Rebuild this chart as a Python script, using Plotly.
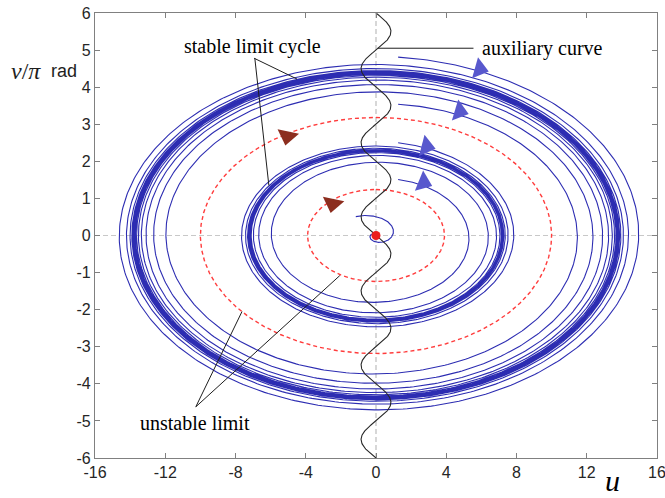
import numpy as np
import plotly.graph_objects as go

# ---------------- data ----------------
U_RANGE = [-16, 16]
V_RANGE = [-6, 6]
x_ticks = [-16, -12, -8, -4, 0, 4, 8, 12, 16]
y_ticks = [-6, -5, -4, -3, -2, -1, 0, 1, 2, 3, 4, 5, 6]

# limit cycles (amplitude in u; v amplitude = same value in rad, i.e. /pi in v/pi units)
stable_cycle_r = [7.2, 13.8]
unstable_cycle_r = [3.9, 10.0]

# trajectories: start point (u, v/pi), limit amplitude, approach factor per turn, number of turns
traj_start_u = [-1.15, 1.26, 1.26, 1.26, 1.26]
traj_start_v = [0.51, 1.51, 2.50, 3.54, 4.81]
traj_limit_r = [0.0, 7.2, 7.2, 13.8, 13.8]
traj_turn_factor = [0.12, 0.42, 0.50, 0.62, 0.50]
traj_turns = [3.0, 9.0, 9.0, 10.0, 9.0]

# auxiliary curve u = -a*sin(pi*v)
aux_amplitude = 0.85
aux_period = 2.0

# direction arrows
blue_arrow_u = [5.9, 4.76, 2.87, 2.7]
blue_arrow_v = [4.49, 3.35, 2.40, 1.43]
brown_arrow_u = [-5.05, -2.47]
brown_arrow_v = [2.68, 0.86]

# annotations (text, u, v)
labels = [
    ("stable limit cycle", -7.05, 5.11),
    ("auxiliary curve", 9.5, 5.05),
    ("unstable limit", -10.3, -5.05),
]
leaders = [  # (u0, v0, u1, v1)
    (-6.94, 4.78, -4.50, 4.22),
    (-6.90, 4.78, -6.10, 1.35),
    (0.10, 5.05, 5.55, 5.05),
    (-10.26, -4.62, -7.63, -2.05),
    (-10.26, -4.62, -2.06, -1.08),
]

# ---------------- styles ----------------
BLUE = "rgb(45,45,178)"
BLUE_ARROW = "rgb(88,88,205)"
BROWN = "rgb(140,45,30)"
RED = "rgb(255,60,60)"
SERIF = "Liberation Serif"
SANS = "Liberation Sans"

ML, MR, MT, MB = 95, 8, 13, 40
W, H = 665, 498
PW, PH = W - ML - MR, H - MT - MB

fig = go.Figure()

# helper: spiral in (u, v_rad) plane, clockwise
def spiral(u0, v0, R, f, turns):
    vr0 = v0 * np.pi
    r0 = np.hypot(u0, vr0)
    th0 = np.arctan2(u0, vr0)
    phi = np.linspace(0, 2 * np.pi * turns, int(400 * turns))
    r = R + (r0 - R) * f ** (phi / (2 * np.pi))
    th = th0 + phi
    return r * np.sin(th), r * np.cos(th) / np.pi

for u0, v0, R, f, n in zip(traj_start_u, traj_start_v, traj_limit_r, traj_turn_factor, traj_turns):
    uu, vv = spiral(u0, v0, R, f, n)
    fig.add_trace(go.Scatter(x=uu, y=vv, mode="lines",
                             line=dict(color=BLUE, width=1.1),
                             hoverinfo="skip", showlegend=False))

th = np.linspace(0, 2 * np.pi, 721)
for R in stable_cycle_r:
    fig.add_trace(go.Scatter(x=R * np.sin(th), y=R * np.cos(th) / np.pi, mode="lines",
                             line=dict(color=BLUE, width=2.2),
                             hoverinfo="skip", showlegend=False))

for R in unstable_cycle_r:
    fig.add_trace(go.Scatter(x=R * np.sin(th), y=R * np.cos(th) / np.pi, mode="lines",
                             line=dict(color=RED, width=1.4, dash="4px,3px"),
                             hoverinfo="skip", showlegend=False))

# auxiliary curve
av = np.linspace(V_RANGE[0], V_RANGE[1], 1201)
au = -aux_amplitude * np.sin(2 * np.pi * av / aux_period)
fig.add_trace(go.Scatter(x=au, y=av, mode="lines", line=dict(color="rgb(40,40,40)", width=1.1),
                         hoverinfo="skip", showlegend=False))

# blue arrows oriented with the clockwise tangent (screen coordinates)
SX = PW / (U_RANGE[1] - U_RANGE[0])
SY = PH / (V_RANGE[1] - V_RANGE[0])
ang = []
for u, v in zip(blue_arrow_u, blue_arrow_v):
    vr = v * np.pi
    ang.append(float(np.degrees(np.arctan2(u * SY / np.pi, vr * SX))))
fig.add_trace(go.Scatter(x=blue_arrow_u, y=blue_arrow_v, mode="markers",
                         marker=dict(symbol="triangle-right", size=19, color=BLUE_ARROW, angle=ang,
                                     line=dict(width=0)),
                         hoverinfo="skip", showlegend=False))
fig.add_trace(go.Scatter(x=brown_arrow_u, y=brown_arrow_v, mode="markers",
                         marker=dict(symbol="triangle-down", size=19, color=BROWN, angle=12,
                                     line=dict(width=0)),
                         hoverinfo="skip", showlegend=False))

# origin
fig.add_trace(go.Scatter(x=[0], y=[0], mode="markers",
                         marker=dict(size=9, color="rgb(235,30,30)"),
                         hoverinfo="skip", showlegend=False))

shapes = [
    dict(type="line", xref="x", yref="y", x0=0, x1=0, y0=V_RANGE[0], y1=V_RANGE[1],
         line=dict(color="rgb(175,175,175)", width=1, dash="5px,3px"), layer="below"),
    dict(type="line", xref="x", yref="y", x0=U_RANGE[0], x1=U_RANGE[1], y0=0, y1=0,
         line=dict(color="rgb(200,200,200)", width=1, dash="5px,3px"), layer="below"),
]
for (a, b, c, d) in leaders:
    shapes.append(dict(type="line", xref="x", yref="y", x0=a, y0=b, x1=c, y1=d,
                       line=dict(color="rgb(30,30,30)", width=1)))

annotations = []
for t, u, v in labels:
    annotations.append(dict(text=t, x=u, y=v, xref="x", yref="y", showarrow=False,
                            font=dict(family=SERIF, size=20, color="black")))

def px(x):
    return (x - ML) / PW

def py(y):
    return (H - MB - y) / PH

# axis labels
annotations.append(dict(text="<i>v</i>/<i>π</i>", x=px(26), y=py(71), xref="paper", yref="paper",
                        showarrow=False, xanchor="center", yanchor="middle",
                        font=dict(family=SERIF, size=24, color="rgb(30,30,30)")))
annotations.append(dict(text="rad", x=px(63.5), y=py(71), xref="paper", yref="paper",
                        showarrow=False, xanchor="center", yanchor="middle",
                        font=dict(family=SANS, size=18, color="rgb(30,30,30)")))
annotations.append(dict(text="<i>u</i>", x=px(612), y=py(480), xref="paper", yref="paper",
                        showarrow=False, xanchor="center", yanchor="middle",
                        font=dict(family=SERIF, size=30, color="black")))

axis_common = dict(showgrid=False, zeroline=False, showline=True, linecolor="rgb(128,128,128)",
                   linewidth=1.2, mirror="ticks", ticks="inside", ticklen=5,
                   tickcolor="rgb(128,128,128)", tickwidth=1, automargin=False,
                   ticklabeloverflow="allow",
                   tickfont=dict(family=SANS, size=16, color="rgb(38,38,38)"))

fig.update_layout(
    width=W, height=H,
    margin=dict(l=ML, r=MR, t=MT, b=MB, autoexpand=False),
    plot_bgcolor="white", paper_bgcolor="white",
    xaxis=dict(range=U_RANGE, tickvals=x_ticks, ticktext=[str(t) for t in x_ticks], **axis_common),
    yaxis=dict(range=V_RANGE, tickvals=y_ticks, ticktext=[str(t) for t in y_ticks], **axis_common),
    shapes=shapes, annotations=annotations, showlegend=False,
)

fig.write_html("out.html")
